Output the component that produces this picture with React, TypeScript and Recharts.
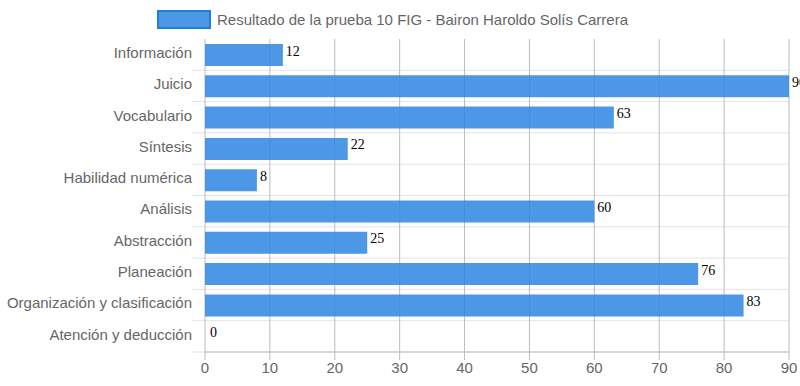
import React from "react";
import { Bar, BarChart, CartesianGrid, LabelList, XAxis, YAxis } from "recharts";

const categories = [
  "Información",
  "Juicio",
  "Vocabulario",
  "Síntesis",
  "Habilidad numérica",
  "Análisis",
  "Abstracción",
  "Planeación",
  "Organización y clasificación",
  "Atención y deducción",
];
const scores = [12, 90, 63, 22, 8, 60, 25, 76, 83, 0];
const xTicks = [0, 10, 20, 30, 40, 50, 60, 70, 80, 90];
const seriesName = "Resultado de la prueba 10 FIG - Bairon Haroldo Solís Carrera";

const data = categories.map((name, i) => ({ name, value: scores[i] }));

const FONT = "'Liberation Sans', Arial, sans-serif";

// bordes de cada banda de categoría (líneas entre filas, como en Chart.js)
const bandEdges = ({ offset }: any) => {
  const step = offset.height / categories.length;
  return categories.map((_, i) => offset.top + step * (i + 1));
};

const ValueLabel = (props: any) => {
  const { x, y, width, height, value } = props;
  return (
    <text
      x={x + width + (value === 0 ? 5 : 3)}
      y={y + height / 2 - 4}
      fontFamily="'Liberation Serif', 'Times New Roman', serif"
      fontSize={14}
      fill="#000"
      dominantBaseline="central"
    >
      {value}
    </text>
  );
};

export default function App() {
  return (
    <div style={{ position: "absolute", left: 0, top: 0, width: 800, height: 386, background: "#fff" }}>
      <div
        style={{
          position: "absolute",
          left: 157,
          top: 10,
          display: "flex",
          alignItems: "center",
          fontFamily: FONT,
          fontSize: 15,
          color: "#666",
        }}
      >
        <span
          style={{
            display: "inline-block",
            width: 50,
            height: 15,
            background: "#4b97e6",
            border: "2px solid #1e7fe0",
            marginRight: 6,
          }}
        />
        {seriesName}
      </div>
      <BarChart
        width={800}
        height={386}
        data={data}
        layout="vertical"
        margin={{ top: 39, right: 11, left: 0, bottom: 0 }}
      >
        <CartesianGrid
          stroke="#e4e4e4"
          horizontalCoordinatesGenerator={bandEdges}
          horizontal={(p: any) => (
            <line key={p.key} x1={p.x1 - 13} x2={p.x2} y1={p.y1} y2={p.y2} stroke="#e4e4e4" strokeWidth={1} />
          )}
          vertical={(p: any) => (
            <line key={p.key} x1={p.x1} x2={p.x2} y1={p.y1} y2={p.y2} stroke="#bcbcbc" strokeWidth={1} />
          )}
        />
        <XAxis
          type="number"
          domain={[0, 90]}
          ticks={xTicks}
          interval={0}
          height={34}
          stroke="#bcbcbc"
          tickSize={8}
          tickMargin={2}
          tick={{ fill: "#666", fontSize: 15, fontFamily: FONT }}
        />
        <YAxis
          type="category"
          dataKey="name"
          width={205}
          axisLine={false}
          tickLine={false}
          tickSize={0}
          tickMargin={13}
          interval={0}
          tick={{ fill: "#666", fontSize: 15, fontFamily: FONT, dy: -2 }}
        />
        <Bar
          dataKey="value"
          name={seriesName}
          fill="#3389e3"
          fillOpacity={0.88}
          barSize={22}
          minPointSize={(v: number) => (v === 0 ? 0.01 : 0)}
          isAnimationActive={false}
        >
          <LabelList dataKey="value" content={ValueLabel} />
        </Bar>
      </BarChart>
    </div>
  );
}
